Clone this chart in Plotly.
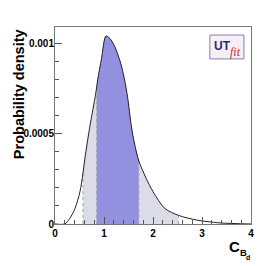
import plotly.graph_objects as go

# curve
x_vals = [0.0, 0.2, 0.3, 0.41, 0.51, 0.57, 0.61, 0.71, 0.76, 0.82, 0.85, 0.87, 0.95, 1.04, 1.12, 1.22, 1.34, 1.42, 1.48, 1.56, 1.62, 1.71, 1.85, 2.0, 2.24, 2.52, 2.89, 3.37, 4.0]
y_vals = [0.0, 0.0, 0.00003, 0.000087, 0.00018, 0.00028, 0.000365, 0.00054, 0.000615, 0.000707, 0.00076, 0.0008, 0.00092, 0.001044, 0.00103, 0.000985, 0.000893, 0.0008, 0.000707, 0.00054, 0.00045, 0.00035, 0.00026, 0.00018, 0.000087, 0.000048, 0.000022, 0.000006, 0.0]

range_95 = [0.57, 2.52]
range_68 = [0.85, 1.71]

x_ticks = [0, 1, 2, 3, 4]
y_ticks = [0, 0.0005, 0.001]
y_ticktext = ["0", "0.0005", "0.001"]

def subset(lo, hi):
    xs, ys = [], []
    for a, b in zip(x_vals, y_vals):
        if lo <= a <= hi:
            xs.append(a); ys.append(b)
    return xs, ys

def yat(v):
    for a, b in zip(x_vals, y_vals):
        if a == v:
            return b
    return 0

fig = go.Figure()
x95, y95 = subset(*range_95)
fig.add_trace(go.Scatter(x=x95, y=y95, fill="tozeroy", mode="lines",
                         line=dict(width=0, shape="spline", smoothing=0.8),
                         fillcolor="#dcdce8", hoverinfo="skip"))
x68, y68 = subset(*range_68)
fig.add_trace(go.Scatter(x=x68, y=y68, fill="tozeroy", mode="lines",
                         line=dict(width=0, shape="spline", smoothing=0.8),
                         fillcolor="#9490e0", hoverinfo="skip"))
for b in range_95 + range_68:
    fig.add_trace(go.Scatter(x=[b, b], y=[0, yat(b)], mode="lines",
                             line=dict(color="#a0a0b0", width=1, dash="dot"), hoverinfo="skip"))
fig.add_trace(go.Scatter(x=x_vals, y=y_vals, mode="lines",
                         line=dict(color="#202020", width=1, shape="spline", smoothing=0.8)))

axis_font = dict(family="Liberation Sans", size=10, color="black", weight="bold")
fig.update_layout(
    width=279, height=266, showlegend=False,
    margin=dict(l=55, r=28, t=27, b=42),
    paper_bgcolor="white", plot_bgcolor="white",
    xaxis=dict(range=[0, 4], tickvals=x_ticks, ticks="inside", ticklen=7, tickcolor="#555",
               minor=dict(dtick=0.2, ticks="inside", ticklen=4, tickcolor="#555"),
               showgrid=False, zeroline=False, showline=True, linecolor="#777", linewidth=1,
               mirror=True, tickfont=axis_font, automargin=False),
    yaxis=dict(range=[0, 0.001094], tickvals=y_ticks, ticktext=y_ticktext, ticks="inside",
               ticklen=7, tickcolor="#555",
               minor=dict(dtick=0.0001, ticks="inside", ticklen=4, tickcolor="#555"),
               showgrid=False, zeroline=False, showline=True, linecolor="#777", linewidth=1,
               mirror=True, tickfont=axis_font, automargin=False, ticklabelstandoff=-2),
)

# y axis title (right-aligned to the top, as in the original)
fig.add_annotation(x=-0.183, y=1.0, xref="paper", yref="paper", showarrow=False,
                   text="<b>Probability density</b>", textangle=-90,
                   font=dict(family="Liberation Sans", size=14.5, color="black"),
                   xanchor="center", yanchor="top")

# axis label C_Bd
fig.add_annotation(x=0.954, y=-0.115, xref="paper", yref="paper", showarrow=False,
                   text="<b>C</b>", font=dict(family="Liberation Sans", size=15, color="black"),
                   xanchor="right", yanchor="middle")
fig.add_annotation(x=0.932, y=-0.143, xref="paper", yref="paper", showarrow=False,
                   text="<b>B</b>", font=dict(family="Liberation Sans", size=9.5, color="black"),
                   xanchor="left", yanchor="middle")
fig.add_annotation(x=0.966, y=-0.168, xref="paper", yref="paper", showarrow=False,
                   text="<b>d</b>", font=dict(family="Liberation Sans", size=7, color="black"),
                   xanchor="left", yanchor="middle")

# UTfit logo
fig.add_shape(type="rect", xref="paper", yref="paper", x0=0.79, x1=0.964, y0=0.838, y1=0.959,
              line=dict(color="#8080b0", width=1), fillcolor="#f6f0f4")
fig.add_annotation(x=0.80, y=0.905, xref="paper", yref="paper", showarrow=False,
                   text="<b>UT</b>", font=dict(family="Liberation Sans", size=12, color="#2a2a70"),
                   xanchor="left", yanchor="middle")
fig.add_annotation(x=0.885, y=0.875, xref="paper", yref="paper", showarrow=False,
                   text="<i>fit</i>", font=dict(family="Liberation Serif", size=12, color="#e02020"),
                   xanchor="left", yanchor="middle")

fig.write_html("out.html", config={"displayModeBar": False},
               post_script="document.body.style.margin='0';")
